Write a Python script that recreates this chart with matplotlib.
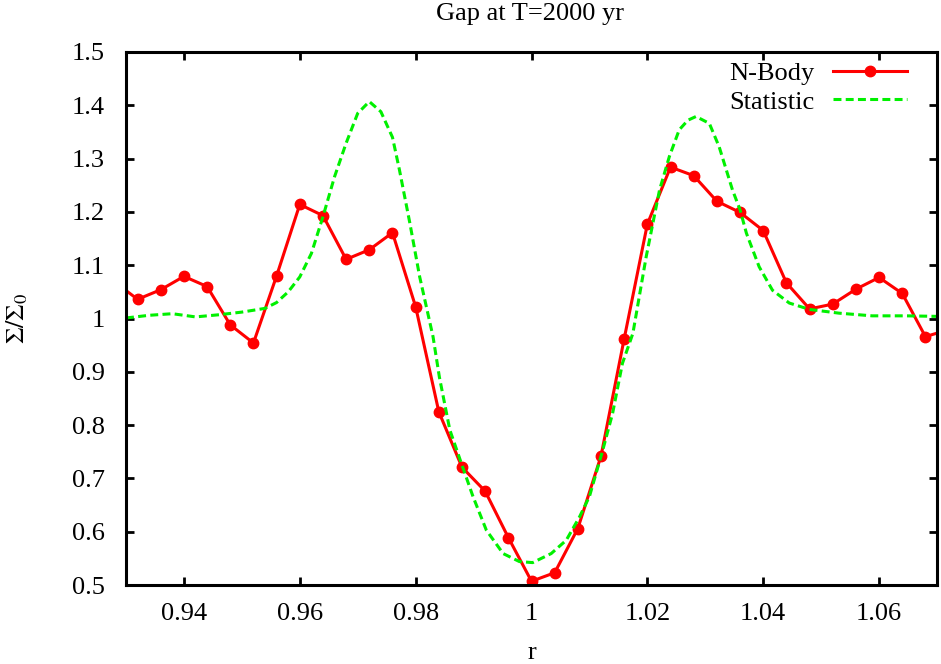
import matplotlib
matplotlib.use("Agg")
import matplotlib.pyplot as plt

# N-Body samples (r, Sigma/Sigma0)
nbody_r = [0.928, 0.932, 0.936, 0.940, 0.944, 0.948, 0.952, 0.956, 0.960, 0.964,
           0.968, 0.972, 0.976, 0.980, 0.984, 0.988, 0.992, 0.996, 1.000, 1.004,
           1.008, 1.012, 1.016, 1.020, 1.024, 1.028, 1.032, 1.036, 1.040, 1.044,
           1.048, 1.052, 1.056, 1.060, 1.064, 1.068, 1.072]
nbody_y = [1.069, 1.036, 1.054, 1.079, 1.060, 0.988, 0.954, 1.080, 1.214, 1.193,
           1.111, 1.129, 1.161, 1.022, 0.825, 0.721, 0.676, 0.589, 0.507, 0.523,
           0.606, 0.742, 0.962, 1.177, 1.284, 1.268, 1.220, 1.199, 1.165, 1.067,
           1.018, 1.027, 1.055, 1.077, 1.047, 0.966, 0.979]

# Statistic curve
stat_r = [0.9300, 0.9340, 0.9380, 0.9420, 0.9460, 0.9500, 0.9540, 0.9560, 0.9580, 0.9600,
          0.9620, 0.9640, 0.9660, 0.9680, 0.9700, 0.9720, 0.9740, 0.9760, 0.9772, 0.9790,
          0.9807, 0.9830, 0.9841, 0.9859, 0.9879, 0.9899, 0.9922, 0.9951, 0.9979, 1.0002,
          1.0034, 1.0060, 1.0083, 1.0100, 1.0123, 1.0140, 1.0157, 1.0175, 1.0198, 1.0221,
          1.0238, 1.0255, 1.0270, 1.0284, 1.0307, 1.0324, 1.0347, 1.0360, 1.0371, 1.0393,
          1.0416, 1.0445, 1.0480, 1.0531, 1.0588, 1.0646, 1.0700]
stat_y = [1.001, 1.006, 1.009, 1.003, 1.007, 1.012, 1.019, 1.030, 1.050, 1.078,
          1.122, 1.191, 1.266, 1.329, 1.385, 1.407, 1.388, 1.340, 1.279, 1.179,
          1.078, 0.966, 0.890, 0.791, 0.728, 0.666, 0.603, 0.559, 0.544, 0.542,
          0.559, 0.584, 0.628, 0.666, 0.753, 0.822, 0.916, 0.972, 1.116, 1.241,
          1.304, 1.354, 1.372, 1.379, 1.366, 1.322, 1.241, 1.204, 1.160, 1.097,
          1.053, 1.029, 1.017, 1.010, 1.005, 1.005, 1.004]

xticks = [0.94, 0.96, 0.98, 1.00, 1.02, 1.04, 1.06]
xtick_labels = ["0.94", "0.96", "0.98", "1", "1.02", "1.04", "1.06"]
yticks = [0.5, 0.6, 0.7, 0.8, 0.9, 1.0, 1.1, 1.2, 1.3, 1.4, 1.5]
ytick_labels = ["0.5", "0.6", "0.7", "0.8", "0.9", "1", "1.1", "1.2", "1.3", "1.4", "1.5"]

plt.rcParams["font.family"] = ["Liberation Serif", "DejaVu Serif"]
plt.rcParams["mathtext.fontset"] = "stix"

fig = plt.figure(figsize=(9.41, 6.64), dpi=100)
ax = fig.add_axes([126 / 941, 1 - 585 / 664, (937 - 126) / 941, (585 - 52) / 664])

ax.plot(nbody_r, nbody_y, color="#ff0000", lw=2.2, marker="o", ms=7.5,
        label="N-Body")
ax.plot(stat_r, stat_y, color="#00f000", lw=2.2, dashes=(2.6, 1.4),
        label="Statistic")

ax.set_xlim(0.93, 1.07)
ax.set_ylim(0.5, 1.5)
ax.set_xticks(xticks)
ax.set_xticklabels(xtick_labels)
ax.set_yticks(yticks)
ax.set_yticklabels(ytick_labels)
ax.tick_params(direction="in", length=6, width=2, top=True, right=True,
               labelsize=19, pad=15)
ax.tick_params(axis="x", pad=13)
for s in ax.spines.values():
    s.set_linewidth(2.2)

ax.set_xlabel("r", fontsize=19, labelpad=12)
ax.set_ylabel(r"$\Sigma/\Sigma_0$", fontsize=19, labelpad=30)
fig.text(530 / 941, 1 - 14 / 664, "Gap at T=2000 yr", ha="center", va="center",
         fontsize=19)

ax.legend(loc="upper right", bbox_to_anchor=(0.982, 1.012), frameon=False,
          markerfirst=False, fontsize=19, handlelength=2.8, handletextpad=0.7,
          labelspacing=0.2, numpoints=1, borderaxespad=0.2)

fig.savefig("out.png", dpi=100)
